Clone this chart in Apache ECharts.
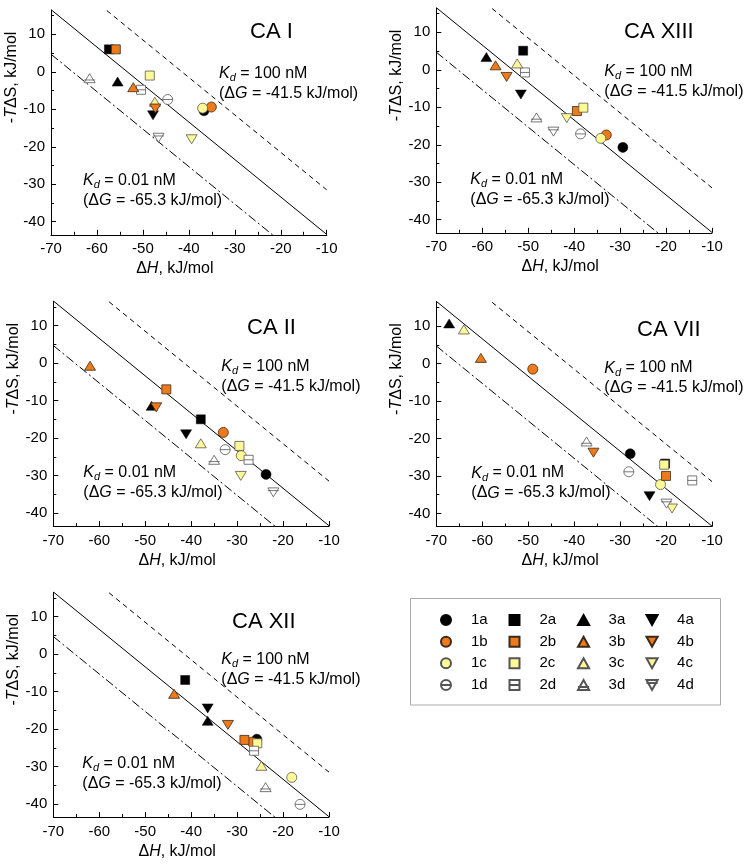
<!DOCTYPE html>
<html><head><meta charset="utf-8">
<script src="https://cdn.jsdelivr.net/npm/echarts@6/dist/echarts.min.js"></script>
<style>html,body{margin:0;padding:0;background:#fff}#c{width:744px;height:867px}</style>
</head><body><div id="c"></div>
<script>
// ---------------- DATA ----------------
const compounds = ['1a','1b','1c','1d','2a','2b','2c','2d','3a','3b','3c','3d','4a','4b','4c','4d'];
const legendRows = [['1a','2a','3a','4a'],['1b','2b','3b','4b'],['1c','2c','3c','4c'],['1d','2d','3d','4d']];
const panelNames = ['CA I','CA XIII','CA II','CA VII','CA XII'];

// ΔH (kJ/mol) and -TΔS (kJ/mol), in order of `compounds`
const dH_CAI    = [-36.7,-35.1,-37.0,-44.6,-57.4,-55.9,-48.5,-50.4,-55.5,-52.1,-47.4,-61.6,-47.8,-47.3,-39.4,-46.6];
const mTdS_CAI  = [-10.4, -9.4, -9.7, -7.4,  6.0,  6.0, -1.0, -4.8, -2.6, -4.1, -8.0, -1.7,-11.6, -9.8,-18.0,-17.6];
const dH_CAXIII   = [-29.4,-33.0,-34.2,-38.6,-51.1,-39.4,-38.0,-50.7,-59.1,-57.1,-52.4,-48.2,-51.6,-54.7,-41.6,-44.5];
const mTdS_CAXIII = [-20.7,-17.4,-18.3,-17.1,  5.1,-11.0,-10.1, -0.7,  3.4,  1.2,  1.7,-12.7, -6.6, -1.9,-12.9,-16.5];
const dH_CAII   = [-23.7,-33.0,-29.1,-32.6,-37.9,-45.4,-29.5,-27.5,-48.6,-62.0,-37.9,-35.0,-41.1,-47.6,-29.2,-22.1];
const mTdS_CAII = [-29.7,-18.5,-24.7,-23.1,-15.0, -7.0,-22.1,-25.8,-11.4, -0.7,-21.4,-25.8,-19.0,-11.8,-30.1,-34.5];
const dH_CAVII   = [-27.8,-49.0,-21.2,-28.1,-20.2,-20.0,-20.4,-14.3,-67.2,-60.3,-64.0,-37.3,-23.6,-35.8,-18.7,-19.9];
const mTdS_CAVII = [-24.1, -1.5,-32.3,-28.9,-26.7,-30.0,-27.0,-31.2, 10.7,  1.5,  9.1,-20.8,-35.4,-23.8,-38.7,-37.4];
const dH_CAXII   = [-25.7,-26.7,-18.1,-16.3,-41.3,-28.4,-25.6,-26.3,-36.4,-43.7,-24.7,-23.8,-36.4,-32.0, null, null];
const mTdS_CAXII = [-22.7,-23.5,-32.9,-40.1, -6.9,-22.9,-23.8,-25.8,-17.8,-10.6,-29.8,-35.5,-14.5,-18.9, null, null];

// Iso-affinity lines: ΔG (kJ/mol) for Kd = 100 nM, 1 nM, 0.01 nM
const dGLines = [-41.5, -53.4, -65.3];
const kdTexts = ['100 nM', '0.01 nM'];
const dGTexts = ['-41.5', '-65.3'];

const xRange = [-70, -10];
const yRange = [-43.5, 16.5];
const yTickValues = [-40, -30, -20, -10, 0, 10];
const yMinorTickValues = [-35, -25, -15, -5, 5, 15];

// ---------------- LAYOUT / STYLE ----------------
const dHs = [dH_CAI, dH_CAXIII, dH_CAII, dH_CAVII, dH_CAXII];
const mTdSs = [mTdS_CAI, mTdS_CAXIII, mTdS_CAII, mTdS_CAVII, mTdS_CAXII];
const FONT = "'Liberation Sans', Arial, sans-serif";
const GW = 275.7, GH = 224.8;
const gridPos = [
  {left: 51, top: 10},
  {left: 436.3, top: 8},
  {left: 53.3, top: 301.3},
  {left: 436.3, top: 301.7},
  {left: 53.3, top: 592.3}
];
const titlePos = [[250, 32], [624, 32], [247, 328], [637, 330], [232, 622]];
const upperDy = [39, 39, 41, 42, 43];
const lowerDy = [146, 147, 147, 147, 147];
const lowerDx = [32, 34, 30, 35, 29];
const legendLeft = [426, 494.5, 563, 631.5];
const legendRowY = [620, 641.7, 663.3, 685];

const fills = {a: '#000000', b: '#EF7A1A', c: '#FFFA96', d: '#FFFFFF'};
const borders = {a: '#000000', b: '#3a2a1a', c: '#555555', d: '#555555'};
const shapes = {
  '1': 'circle',
  '2': 'path://M0,0L10,0L10,10L0,10Z',
  '3': 'path://M5,0L10,9L0,9Z',
  '4': 'path://M0,0L10,0L5,9Z'
};
const shapesD = {
  '1': 'path://M0,5A5,5,0,1,1,10,5A5,5,0,1,1,0,5ZM0,5L10,5',
  '2': 'path://M0,0L10,0L10,10L0,10ZM0,5L10,5',
  '3': 'path://M5,0L10,9L0,9ZM0,6.3L10,6.3',
  '4': 'path://M0,0L10,0L5,9ZM0,2.7L10,2.7'
};
const sizes = {'1': 10, '2': 9, '3': [11, 10], '4': [11, 10]};

const grids = [], xAxes = [], yAxes = [], series = [], graphics = [];
const richIt = {
  i: {fontStyle: 'italic', fontSize: 16, fontFamily: FONT},
  s: {fontStyle: 'italic', fontSize: 11, fontFamily: FONT, verticalAlign: 'bottom', lineHeight: 20}
};

for (let p = 0; p < 5; p++) {
  const g = gridPos[p];
  grids.push({left: g.left, top: g.top, width: GW, height: GH, containLabel: false});
  xAxes.push({
    gridIndex: p, type: 'value', min: xRange[0], max: xRange[1], interval: 10,
    axisLine: {onZero: false, lineStyle: {color: '#000', width: 1}},
    axisTick: {inside: true, length: 5, lineStyle: {color: '#000'}},
    minorTick: {show: true, splitNumber: 2, length: 3, lineStyle: {color: '#000'}},
    axisLabel: {color: '#000', fontSize: 15, margin: 7, fontFamily: FONT},
    splitLine: {show: false},
    name: 'Δ{i|H}, kJ/mol', nameLocation: 'middle', nameGap: 26,
    nameTextStyle: {color: '#000', fontSize: 16, fontFamily: FONT, padding: [0, 28, 0, 0], rich: {i: {fontStyle: 'italic', fontSize: 16, fontFamily: FONT}}}
  });
  yAxes.push({
    gridIndex: p, type: 'value', min: yRange[0], max: yRange[1], position: 'left',
    axisLine: {show: true, onZero: false, lineStyle: {color: '#000', width: 1}},
    axisTick: {inside: true, length: 5, customValues: yTickValues, lineStyle: {color: '#000'}},
    axisLabel: {customValues: yTickValues, color: '#000', fontSize: 15, margin: 6, fontFamily: FONT},
    splitLine: {show: false},
    name: '-{i|T}ΔS, kJ/mol', nameLocation: 'middle', nameGap: 28,
    nameTextStyle: {color: '#000', fontSize: 16, fontFamily: FONT, padding: [0, 0, 0, 90], rich: {i: {fontStyle: 'italic', fontSize: 16, fontFamily: FONT}}}
  });
  yAxes.push({
    gridIndex: p, type: 'value', min: yRange[0], max: yRange[1], position: 'left', offset: 0,
    axisLine: {show: false, onZero: false},
    axisTick: {show: true, inside: true, length: 3, customValues: yMinorTickValues, lineStyle: {color: '#000'}},
    axisLabel: {show: false},
    splitLine: {show: false}
  });

  // iso-affinity lines
  const lineTypes = [[5, 4], 'solid', [9, 3, 2, 3]];
  dGLines.forEach((dG, k) => {
    series.push({
      type: 'line', xAxisIndex: p, yAxisIndex: 2 * p, silent: true, symbol: 'none', z: 1,
      data: [[xRange[0], dG - xRange[0]], [xRange[1], dG - xRange[1]]],
      lineStyle: {color: '#000', width: 1, type: lineTypes[k]}, clip: true
    });
  });

  // data points
  compounds.forEach((name, c) => {
    const x = dHs[p][c], y = mTdSs[p][c];
    if (x === null || y === null) return;
    const grp = name[0], v = name[1];
    series.push({
      type: 'scatter', name: name, xAxisIndex: p, yAxisIndex: 2 * p, z: 3 + c,
      symbol: v === 'd' ? shapesD[grp] : shapes[grp],
      symbolSize: sizes[grp], symbolKeepAspect: true,
      itemStyle: {color: fills[v], borderColor: borders[v], borderWidth: v === 'a' ? 0.5 : 0.8, opacity: 1},
      data: [[x, y]]
    });
  });

  // titles
  graphics.push({
    type: 'text', x: titlePos[p][0], y: titlePos[p][1], silent: true,
    style: {text: panelNames[p], fontSize: 22, fontFamily: FONT, fill: '#000', verticalAlign: 'middle'}
  });
  // annotations
  const y10 = g.top + GH * (yRange[1] - 10) / (yRange[1] - yRange[0]);
  const annos = [
    [g.left + 168, y10 + upperDy[p], '{i|K}{s|d} = ' + kdTexts[0]],
    [g.left + 168, y10 + upperDy[p] + 20, '(Δ{i|G} = ' + dGTexts[0] + ' kJ/mol)'],
    [g.left + lowerDx[p], y10 + lowerDy[p], '{i|K}{s|d} = ' + kdTexts[1]],
    [g.left + lowerDx[p], y10 + lowerDy[p] + 20, '(Δ{i|G} = ' + dGTexts[1] + ' kJ/mol)']
  ];
  annos.forEach(a => graphics.push({
    type: 'text', x: a[0], y: a[1], silent: true, z: 50,
    style: {text: a[2], rich: richIt, fontSize: 16, lineHeight: 20, fontFamily: FONT, fill: '#000', verticalAlign: 'middle'}
  }));
}

// legend frame
graphics.push({
  type: 'rect', silent: true, z: 0,
  shape: {x: 410.5, y: 598.5, width: 310, height: 106.5},
  style: {fill: '#fff', stroke: '#aaa', lineWidth: 1}
});

// one legend component per entry, so every entry sits on the 4x4 grid
const legends = [];
legendRows.forEach((row, i) => row.forEach((name, j) => {
  legends.push({
    data: [name], left: legendLeft[j] + 14, top: legendRowY[i] - 9,
    padding: 0, itemGap: 0, itemWidth: 40, itemHeight: 10, selectedMode: false,
    textStyle: {fontSize: 15, color: '#000', lineHeight: 18, fontFamily: FONT}
  });
}));

const option = {
  animation: false,
  backgroundColor: '#fff',
  textStyle: {fontFamily: FONT},
  grid: grids, xAxis: xAxes, yAxis: yAxes, series: series, graphic: graphics,
  legend: legends
};
const chart = echarts.init(document.getElementById('c'), null, {renderer: 'canvas'});
chart.setOption(option);
</script></body></html>
